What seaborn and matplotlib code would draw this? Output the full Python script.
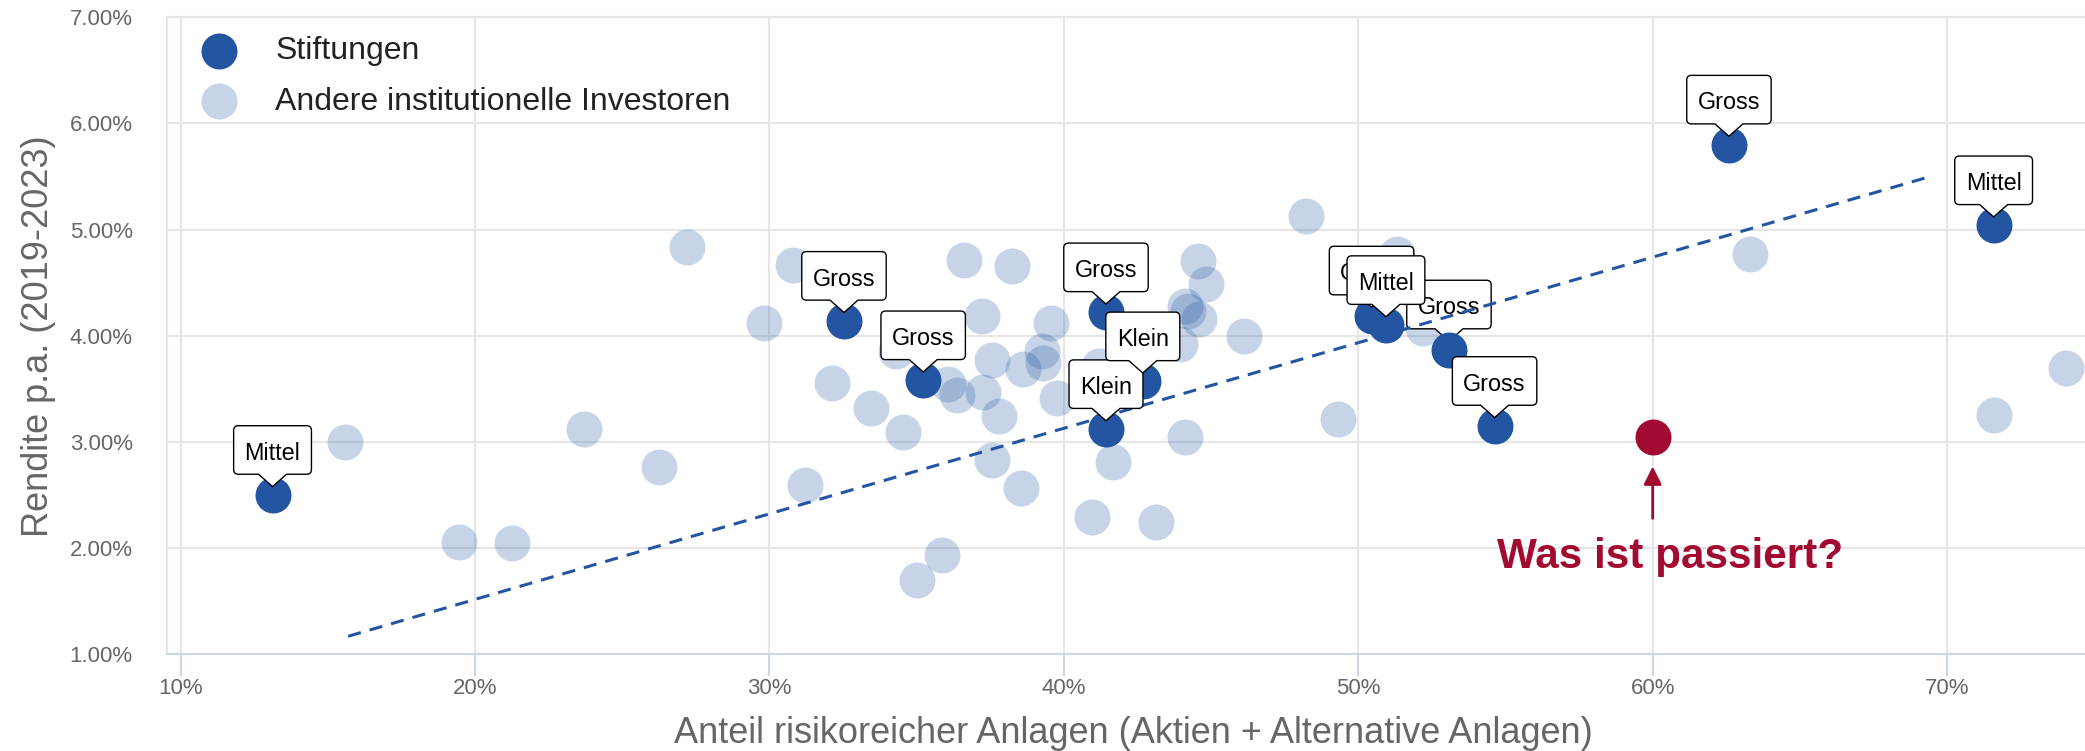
import numpy as np
import pandas as pd
import seaborn as sns
import matplotlib.pyplot as plt
from matplotlib.path import Path

# Stiftungen (dunkelblau) mit Grössenklasse
stift_x = [13.12, 32.53, 35.22, 41.43, 41.43, 42.68, 53.08, 50.45, 50.94, 54.63, 62.59, 71.58]
stift_y = [2.50, 4.14, 3.58, 4.22, 3.12, 3.57, 3.87, 4.19, 4.10, 3.15, 5.80, 5.04]
stift_size = ["Mittel", "Gross", "Gross", "Gross", "Klein", "Klein", "Gross", "Gross", "Mittel", "Gross", "Gross", "Mittel"]

# andere institutionelle Investoren (hellblau)
andere_x = [15.59, 19.46, 21.24, 23.70, 26.26, 27.19, 29.82, 30.80, 31.20, 32.13,
            33.45, 34.30, 34.55, 35.00, 35.85, 36.05, 36.38, 36.62, 37.23, 37.24,
            37.55, 37.55, 37.80, 38.25, 38.54, 38.62, 39.25, 39.28, 39.55, 39.78,
            40.95, 41.20, 41.66, 43.13, 43.94, 44.11, 44.20, 44.60, 44.56, 44.83,
            44.11, 46.13, 48.22, 49.30, 51.30, 52.21, 63.30, 71.58, 74.04]
andere_y = [3.00, 2.06, 2.05, 3.12, 2.76, 4.84, 4.12, 4.67, 2.59, 3.56,
            3.32, 3.86, 3.09, 1.70, 1.94, 3.55, 3.44, 4.71, 4.19, 3.47,
            3.77, 2.83, 3.24, 4.66, 2.57, 3.69, 3.86, 3.74, 4.12, 3.41,
            2.29, 3.72, 2.81, 2.25, 3.92, 4.28, 4.23, 4.16, 4.70, 4.49,
            3.05, 4.00, 5.13, 3.22, 4.77, 4.07, 4.77, 3.25, 3.70]

# hervorgehobener Punkt
fokus_x = [60.0]
fokus_y = [3.05]

# Trendlinie (Endpunkte)
trend_x = [15.69, 69.42]
trend_y = [1.17, 5.50]

x_ticks = [10, 20, 30, 40, 50, 60, 70]
y_ticks = [1, 2, 3, 4, 5, 6, 7]

BLAU = "#2355a3"
ROT = "#a20a31"
GRAU = "#666666"

stift = pd.DataFrame({"x": stift_x, "y": stift_y, "groesse": stift_size})
andere = pd.DataFrame({"x": andere_x, "y": andere_y})

sns.set_theme(style="white")
plt.rcParams["font.family"] = ["Liberation Sans", "DejaVu Sans"]

W, H = 2085, 751
fig = plt.figure(figsize=(W / 100, H / 100), dpi=100)
# Achse ragt rechts leicht über das Bild hinaus
ax = fig.add_axes([167 / W, (H - 654.3) / H, 1932 / W, 637 / H])

S = 671
sns.scatterplot(data=stift, x="x", y="y", color=BLAU, s=S, linewidth=0, zorder=3,
                label="Stiftungen", ax=ax)
sns.scatterplot(data=andere, x="x", y="y", color=BLAU, alpha=0.25, s=S, linewidth=0,
                zorder=2, label="Andere institutionelle Investoren", ax=ax)
sns.scatterplot(x=fokus_x, y=fokus_y, color=ROT, s=S, linewidth=0, zorder=3, ax=ax)
sns.lineplot(x=trend_x, y=trend_y, color=BLAU, lw=2.2, linestyle=(0, (4.3, 3)),
             zorder=2.5, ax=ax)


# Sprechblase als Box-Stil
def callout(x0, y0, width, height, mutation_size):
    s = mutation_size
    padx = 0.47 * s
    half_h = 1.04 * s
    cy = y0 + height / 2 + 0.14 * s
    left, right = x0 - padx, x0 + width + padx
    bottom, top = cy - half_h, cy + half_h
    cx = x0 + width / 2
    r = 0.2 * s
    tw, th = 0.6 * s, 0.53 * s
    verts = [(left + r, bottom), (cx - tw, bottom), (cx, bottom - th), (cx + tw, bottom),
             (right - r, bottom), (right, bottom), (right, bottom + r),
             (right, top - r), (right, top), (right - r, top),
             (left + r, top), (left, top), (left, top - r),
             (left, bottom + r), (left, bottom), (left + r, bottom),
             (left + r, bottom)]
    codes = [Path.MOVETO, Path.LINETO, Path.LINETO, Path.LINETO,
             Path.LINETO, Path.CURVE3, Path.CURVE3,
             Path.LINETO, Path.CURVE3, Path.CURVE3,
             Path.LINETO, Path.CURVE3, Path.CURVE3,
             Path.LINETO, Path.CURVE3, Path.CURVE3,
             Path.CLOSEPOLY]
    return Path(verts, codes)


for i, (lx, ly, lab) in enumerate(zip(stift_x, stift_y, stift_size)):
    # das Label bei ~53% liegt im Original unter der Trendlinie
    z = 2.45 if i == 6 else 4 + i * 0.01
    ax.annotate(lab, xy=(lx, ly), xytext=(0, 30.1), textcoords="offset points",
                ha="center", va="center", fontsize=16.8, color="black", zorder=z,
                bbox=dict(boxstyle=callout, fc="white", ec="black", lw=1.0))

# Hinweis
ax.annotate("", xy=(60.0, 2.77), xytext=(60.0, 2.28),
            arrowprops=dict(arrowstyle="-|>,head_length=0.4,head_width=0.2",
                            color=ROT, lw=2, mutation_scale=27, shrinkA=0, shrinkB=0))
ax.text(60.6, 1.81, "Was ist passiert?", color=ROT, fontsize=30.4,
        fontweight="bold", ha="center", va="baseline")

ax.set_xlim(9.535, 75.16)
ax.set_ylim(1, 7)
ax.set_xticks(x_ticks)
ax.set_xticklabels([f"{v}%" for v in x_ticks])
ax.set_yticks(y_ticks)
ax.set_yticklabels([f"{v:.2f}%" for v in y_ticks])

ax.grid(True, color="#e6e6e6", lw=1.5)
ax.set_axisbelow(True)
for side in ["left", "top"]:
    ax.spines[side].set_color("#e6e6e6")
    ax.spines[side].set_linewidth(1.5)
ax.spines["right"].set_visible(False)
ax.spines["bottom"].set_color("#ccd6eb")
ax.spines["bottom"].set_linewidth(1.5)

ax.tick_params(axis="x", length=16, width=1.4, color="#ccd6eb", pad=1,
               labelsize=16, labelcolor=GRAU, bottom=True)
ax.tick_params(axis="y", length=0, pad=24.7, labelsize=16, labelcolor=GRAU)

ax.set_xlabel("Anteil risikoreicher Anlagen (Aktien + Alternative Anlagen)",
              fontsize=26, color=GRAU, labelpad=12)
ax.set_ylabel("Rendite p.a. (2019-2023)", fontsize=26, color=GRAU, labelpad=10)

leg = ax.legend(loc="upper left", bbox_to_anchor=(0.0172, 0.970), frameon=False,
                fontsize=23, handlelength=1.2, handletextpad=1.15, labelspacing=0.63,
                borderpad=0, borderaxespad=0)
for t in leg.get_texts():
    t.set_color("#222222")

fig.savefig("out.png", dpi=100)
